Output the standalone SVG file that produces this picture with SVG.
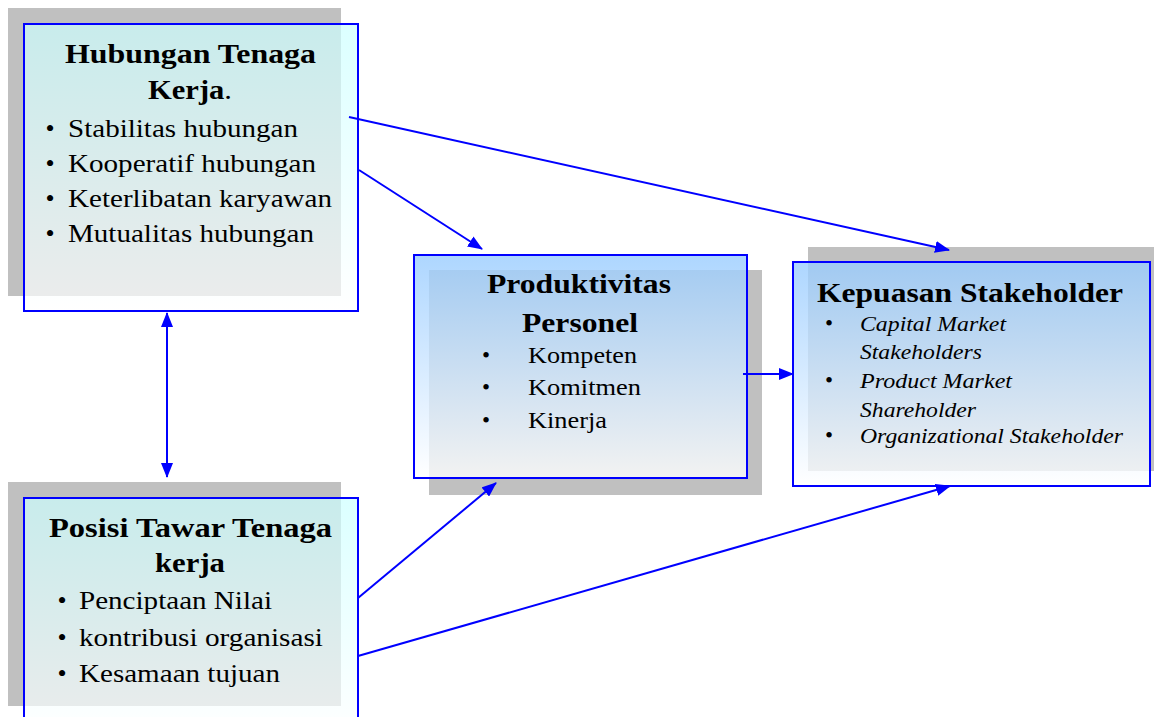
<svg xmlns="http://www.w3.org/2000/svg" width="1154" height="717" viewBox="0 0 1154 717">
<defs>
<linearGradient id="gCyan" x1="0" y1="0" x2="0" y2="1">
<stop offset="0" stop-color="#ccffff"/>
<stop offset="1" stop-color="#ffffff"/>
</linearGradient>
<linearGradient id="gBlue" x1="0" y1="0" x2="0" y2="1">
<stop offset="0" stop-color="#99ccff"/>
<stop offset="1" stop-color="#ffffff"/>
</linearGradient>
<marker id="ah" markerUnits="userSpaceOnUse" markerWidth="15" markerHeight="12" viewBox="0 0 15 12" refX="14" refY="6" orient="auto-start-reverse">
<path d="M0,0 L15,6 L0,12 z" fill="#0000ff"/>
</marker>
</defs>
<style>
.shadow{fill:#c0c0c0}
.box{stroke:#0000ff;stroke-width:2}
.cyan{fill:url(#gCyan);fill-opacity:0.7}
.blue{fill:url(#gBlue);fill-opacity:0.8}
text{font-family:"Liberation Serif","Times New Roman",serif;fill:#000}
.title{font-weight:bold;font-size:27px}
.item{font-size:26px}
.item2{font-size:23px}
.ital{font-size:22px;font-style:italic}
.bul{text-anchor:middle}
.conn{stroke:#0000ff;stroke-width:2;fill:none;marker-end:url(#ah)}
</style>
<rect width="1154" height="717" fill="#ffffff"/>

<g id="node-hubungan">
<rect class="shadow" x="8" y="8" width="333" height="288"/>
<rect class="box cyan" x="24" y="24" width="334" height="287"/>
<text class="title" x="65" y="63" textLength="251" lengthAdjust="spacingAndGlyphs">Hubungan Tenaga</text>
<text class="title" x="148" y="99" textLength="84" lengthAdjust="spacingAndGlyphs">Kerja<tspan font-weight="normal">.</tspan></text>
<text class="item bul" x="50" y="137">•</text>
<text class="item" x="68" y="137" textLength="230" lengthAdjust="spacingAndGlyphs">Stabilitas hubungan</text>
<text class="item bul" x="50" y="172">•</text>
<text class="item" x="68" y="172" textLength="248" lengthAdjust="spacingAndGlyphs">Kooperatif hubungan</text>
<text class="item bul" x="50" y="207">•</text>
<text class="item" x="68" y="207" textLength="264" lengthAdjust="spacingAndGlyphs">Keterlibatan karyawan</text>
<text class="item bul" x="50" y="242" font-size="22">•</text>
<text class="item" x="68" y="242" textLength="246" lengthAdjust="spacingAndGlyphs">Mutualitas hubungan</text>
</g>

<g id="node-posisi">
<rect class="shadow" x="8" y="482" width="333" height="224"/>
<rect class="box cyan" x="24" y="498" width="334" height="240"/>
<text class="title" x="49" y="537" textLength="283" lengthAdjust="spacingAndGlyphs">Posisi Tawar Tenaga</text>
<text class="title" x="155" y="572" textLength="70" lengthAdjust="spacingAndGlyphs">kerja</text>
<text class="item bul" x="62" y="609">•</text>
<text class="item" x="79" y="609" textLength="193" lengthAdjust="spacingAndGlyphs">Penciptaan Nilai</text>
<text class="item bul" x="62" y="646">•</text>
<text class="item" x="79" y="646" textLength="244" lengthAdjust="spacingAndGlyphs">kontribusi organisasi</text>
<text class="item bul" x="62" y="682">•</text>
<text class="item" x="79" y="682" textLength="201" lengthAdjust="spacingAndGlyphs">Kesamaan tujuan</text>
</g>

<g id="node-produktivitas">
<rect class="shadow" x="429" y="270" width="333" height="225"/>
<rect class="box blue" x="414" y="255" width="333" height="223"/>
<text class="title" x="487" y="293" textLength="184" lengthAdjust="spacingAndGlyphs">Produktivitas</text>
<text class="title" x="522" y="332" textLength="116" lengthAdjust="spacingAndGlyphs">Personel</text>
<text class="item2 bul" x="486" y="363">•</text>
<text class="item2" x="528" y="363" textLength="109" lengthAdjust="spacingAndGlyphs">Kompeten</text>
<text class="item2 bul" x="486" y="395">•</text>
<text class="item2" x="528" y="395" textLength="113" lengthAdjust="spacingAndGlyphs">Komitmen</text>
<text class="item2 bul" x="486" y="428">•</text>
<text class="item2" x="528" y="428" textLength="79" lengthAdjust="spacingAndGlyphs">Kinerja</text>
</g>

<g id="node-kepuasan">
<rect class="shadow" x="808" y="247" width="346" height="224"/>
<rect class="box blue" x="793" y="262" width="357" height="224"/>
<text class="title" x="817" y="302" font-size="26" textLength="306" lengthAdjust="spacingAndGlyphs">Kepuasan Stakeholder</text>
<text class="item2 bul" x="829" y="331">•</text>
<text class="ital" x="860" y="331" textLength="146" lengthAdjust="spacingAndGlyphs">Capital Market</text>
<text class="ital" x="860" y="359" textLength="122" lengthAdjust="spacingAndGlyphs">Stakeholders</text>
<text class="item2 bul" x="829" y="388">•</text>
<text class="ital" x="860" y="388" textLength="152" lengthAdjust="spacingAndGlyphs">Product Market</text>
<text class="ital" x="860" y="417" textLength="116" lengthAdjust="spacingAndGlyphs">Shareholder</text>
<text class="item2 bul" x="829" y="443">•</text>
<text class="ital" x="860" y="443" textLength="263" lengthAdjust="spacingAndGlyphs">Organizational Stakeholder</text>
</g>

<g id="connectors">
<line class="conn" x1="349" y1="117" x2="949" y2="250"/>
<line class="conn" x1="359" y1="170" x2="482" y2="249"/>
<line class="conn" x1="167" y1="313" x2="167" y2="477" marker-start="url(#ah)"/>
<line class="conn" x1="358" y1="598" x2="496" y2="483"/>
<line class="conn" x1="358" y1="656" x2="950" y2="486"/>
<line class="conn" x1="743" y1="374" x2="793" y2="374"/>
</g>
</svg>
